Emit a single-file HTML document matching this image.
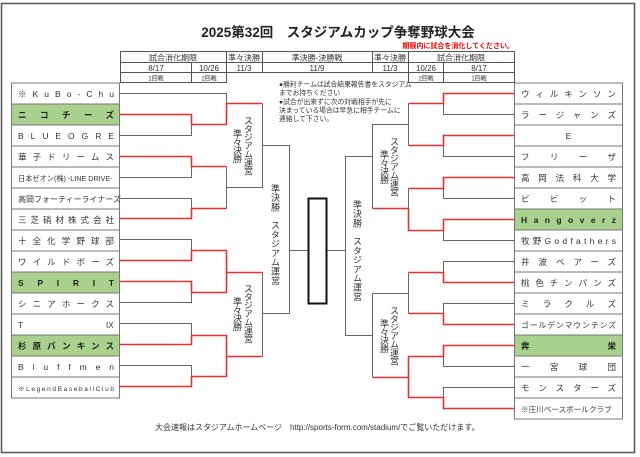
<!DOCTYPE html>
<html><head><meta charset="utf-8"><style>
html,body{margin:0;padding:0;background:#fff;}
body{width:640px;height:457px;position:relative;overflow:hidden;font-family:"Liberation Sans","Noto Sans CJK JP",sans-serif;}
.v{position:absolute;writing-mode:vertical-rl;font-size:9px;line-height:10px;color:#333;font-family:"Noto Sans CJK JP",sans-serif;letter-spacing:-0.6px;}
svg text{font-family:"Liberation Sans","Noto Sans CJK JP",sans-serif;}
</style></head><body>
<svg width="640" height="457" viewBox="0 0 640 457" style="position:absolute;left:0;top:0">
<rect x="1.5" y="3.5" width="633" height="449" fill="none" stroke="#555" stroke-width="1.5"/>
<text x="338" y="37" font-size="13.5" font-weight="bold" fill="#222" text-anchor="middle" font-family="Noto Sans CJK JP,sans-serif">2025第32回　スタジアムカップ争奪野球大会</text>
<text x="514" y="48" font-size="7" font-weight="bold" fill="#e00" text-anchor="end" font-family="Noto Sans CJK JP,sans-serif">期限内に試合を消化してください。</text>
<!-- header table -->
<g stroke="#555" stroke-width="1" fill="none">
<rect x="120.5" y="51.5" width="394" height="21"/>
<line x1="120.5" y1="62.5" x2="514.5" y2="62.5"/>
<line x1="226.5" y1="51.5" x2="226.5" y2="72.5"/>
<line x1="262.5" y1="51.5" x2="262.5" y2="72.5"/>
<line x1="372.5" y1="51.5" x2="372.5" y2="72.5"/>
<line x1="408.5" y1="51.5" x2="408.5" y2="72.5"/>
<line x1="191.5" y1="62.5" x2="191.5" y2="82.5"/>
<line x1="443.5" y1="62.5" x2="443.5" y2="82.5"/>
<rect x="120.5" y="72.5" width="106" height="10"/>
<rect x="408.5" y="72.5" width="106" height="10"/>
</g>
<g font-size="8" fill="#333" text-anchor="middle" font-family="Noto Sans CJK JP,sans-serif">
<text x="173" y="60.5">試合消化期限</text>
<text x="244" y="60.5">準々決勝</text>
<text x="317" y="60.5">準決勝-決勝戦</text>
<text x="390" y="60.5">準々決勝</text>
<text x="461" y="60.5">試合消化期限</text>
<text x="156" y="71">8/17</text><text x="209" y="71">10/26</text><text x="244" y="71">11/3</text>
<text x="317" y="71">11/9</text><text x="390" y="71">11/3</text><text x="426" y="71">10/26</text><text x="479" y="71">8/17</text>
<text x="156" y="80.5" font-size="6">1回戦</text><text x="209" y="80.5" font-size="6">2回戦</text>
<text x="426" y="80.5" font-size="6">2回戦</text><text x="479" y="80.5" font-size="6">1回戦</text>
</g>
<g font-size="6.8" fill="#333" font-family="Noto Sans CJK JP,sans-serif">
<text x="279" y="86.5">●勝利チームは試合結果報告書をスタジアム</text>
<text x="279" y="95">までお持ちください</text>
<text x="279" y="104">●試合が出来ずに次の対戦相手が先に</text>
<text x="279" y="112.5">決まっている場合は早急に相手チームに</text>
<text x="279" y="121">連絡して下さい。</text>
</g>
<!-- left boxes -->
<g stroke="#777" stroke-width="1">
<rect x="11.5" y="83" width="108" height="21" fill="#fff"/>
<rect x="11.5" y="104" width="108" height="21" fill="#a9d18e"/>
<rect x="11.5" y="125" width="108" height="21" fill="#fff"/>
<rect x="11.5" y="146" width="108" height="21" fill="#fff"/>
<rect x="11.5" y="167" width="108" height="21" fill="#fff"/>
<rect x="11.5" y="188" width="108" height="21" fill="#fff"/>
<rect x="11.5" y="209" width="108" height="21" fill="#fff"/>
<rect x="11.5" y="230" width="108" height="21" fill="#fff"/>
<rect x="11.5" y="251" width="108" height="21" fill="#fff"/>
<rect x="11.5" y="272" width="108" height="21" fill="#a9d18e"/>
<rect x="11.5" y="293" width="108" height="21" fill="#fff"/>
<rect x="11.5" y="314" width="108" height="21" fill="#fff"/>
<rect x="11.5" y="335" width="108" height="21" fill="#a9d18e"/>
<rect x="11.5" y="356" width="108" height="21" fill="#fff"/>
<rect x="11.5" y="377" width="108" height="21" fill="#fff"/>
</g>
<g font-size="8.5" fill="#333" font-family="Noto Sans CJK JP,sans-serif">
<text x="18" y="97" textLength="96" lengthAdjust="spacing">※KuBo-Chu</text>
<text x="18" y="118" textLength="96" lengthAdjust="spacing" font-weight="bold" fill="#222">ニコチーズ</text>
<text x="18" y="139" textLength="96" lengthAdjust="spacing">BLUEOGRE</text>
<text x="18" y="160" textLength="96" lengthAdjust="spacing">華子ドリームス</text>
<text x="18" y="181" font-size="7.2">日本ゼオン(株) -LINE DRIVE-</text>
<text x="18" y="202" font-size="8">高岡フォーティーライナーズ</text>
<text x="18" y="223" textLength="96" lengthAdjust="spacing">三芝硝材株式会社</text>
<text x="18" y="244" textLength="96" lengthAdjust="spacing">十全化学野球部</text>
<text x="18" y="265" textLength="96" lengthAdjust="spacing">ワイルドボーズ</text>
<text x="18" y="286" textLength="96" lengthAdjust="spacing" font-weight="bold" fill="#222">SPIRIT</text>
<text x="18" y="307" textLength="96" lengthAdjust="spacing">シニアホークス</text>
<text x="18" y="328">T</text><text x="106" y="328" font-size="8">IX</text>
<text x="18" y="349" textLength="96" lengthAdjust="spacing" font-weight="bold" fill="#222">杉原パンキンス</text>
<text x="18" y="370" textLength="96" lengthAdjust="spacing">Bluffmen</text>
<text x="18" y="391" textLength="96" lengthAdjust="spacing" font-size="6.5">※LegendBaseballClub</text>
</g>
<!-- right boxes -->
<g stroke="#777" stroke-width="1">
<rect x="514.5" y="83" width="108" height="21" fill="#fff"/>
<rect x="514.5" y="104" width="108" height="21" fill="#fff"/>
<rect x="514.5" y="125" width="108" height="21" fill="#fff"/>
<rect x="514.5" y="146" width="108" height="21" fill="#fff"/>
<rect x="514.5" y="167" width="108" height="21" fill="#fff"/>
<rect x="514.5" y="188" width="108" height="21" fill="#fff"/>
<rect x="514.5" y="209" width="108" height="21" fill="#a9d18e"/>
<rect x="514.5" y="230" width="108" height="21" fill="#fff"/>
<rect x="514.5" y="251" width="108" height="21" fill="#fff"/>
<rect x="514.5" y="272" width="108" height="21" fill="#fff"/>
<rect x="514.5" y="293" width="108" height="21" fill="#fff"/>
<rect x="514.5" y="314" width="108" height="21" fill="#fff"/>
<rect x="514.5" y="335" width="108" height="21" fill="#a9d18e"/>
<rect x="514.5" y="356" width="108" height="21" fill="#fff"/>
<rect x="514.5" y="377" width="108" height="21" fill="#fff"/>
<rect x="514.5" y="398" width="108" height="21" fill="#fff"/>
</g>
<g font-size="8.5" fill="#333" font-family="Noto Sans CJK JP,sans-serif">
<text x="521" y="97" textLength="95" lengthAdjust="spacing">ウィルキンソン</text>
<text x="521" y="118" textLength="95" lengthAdjust="spacing">ラージャンズ</text>
<text x="568.5" y="139" text-anchor="middle">E</text>
<text x="521" y="160" textLength="95" lengthAdjust="spacing">フリーザ</text>
<text x="521" y="181" textLength="95" lengthAdjust="spacing">高岡法科大学</text>
<text x="521" y="202" textLength="95" lengthAdjust="spacing">ビビット</text>
<text x="521" y="223" textLength="95" lengthAdjust="spacing" font-weight="bold" fill="#222">Hangoverz</text>
<text x="521" y="244" textLength="95" lengthAdjust="spacing">牧野Godfathers</text>
<text x="521" y="265" textLength="95" lengthAdjust="spacing">井波ベアーズ</text>
<text x="521" y="286" textLength="95" lengthAdjust="spacing">桃色チンパンズ</text>
<text x="521" y="307" textLength="95" lengthAdjust="spacing">ミラクルズ</text>
<text x="521" y="328" textLength="95" lengthAdjust="spacing" font-size="7.8">ゴールデンマウンテンズ</text>
<text x="521" y="349" textLength="95" lengthAdjust="spacing" font-weight="bold" fill="#222">奔栄</text>
<text x="521" y="370" textLength="95" lengthAdjust="spacing">一宮球団</text>
<text x="521" y="391" textLength="95" lengthAdjust="spacing">モンスターズ</text>
<text x="521" y="412" font-size="7.6">※庄川ベースボールクラブ</text>
</g>
<!-- gray bracket lines -->
<g stroke="#666" stroke-width="1" fill="none">
<path d="M119.5 93.5H226.5V124.5"/>
<path d="M119.5 135.5H191.5V114.5"/>
<path d="M119.5 177.5H191.5V156.5"/>
<path d="M119.5 198.5H191.5V218.5"/>
<path d="M226.5 166.5V208.5"/>
<path d="M226.5 187.5H262.5V103.5"/>
<path d="M262.5 145.5H289.5V313.5"/>
<path d="M119.5 239.5H191.5V250.5"/>
<path d="M119.5 302.5H191.5V281.5"/>
<path d="M119.5 323.5H191.5V344.5"/>
<path d="M119.5 365.5H191.5V386.5"/>
<path d="M262.5 272.5V356.5"/>
<path d="M262.5 313.5H289.5"/>
<path d="M289.5 250.5H308"/>
<path d="M514.5 114.5H443.5V93.5"/>
<path d="M514.5 156.5H443.5V135.5"/>
<path d="M514.5 198.5H443.5V177.5"/>
<path d="M514.5 240.5H443.5V219.5"/>
<path d="M408.5 103.5V145.5"/>
<path d="M408.5 124.5H372.5V208.5"/>
<path d="M408.5 188.5V230.5"/>
<path d="M372.5 156.5H345.5V335.5"/>
<path d="M514.5 261.5H443.5V282.5"/>
<path d="M514.5 303.5H443.5V324.5"/>
<path d="M514.5 366.5H443.5V345.5"/>
<path d="M514.5 387.5H443.5V408.5"/>
<path d="M408.5 272.5V313.5"/>
<path d="M408.5 293.5H372.5V377.5"/>
<path d="M408.5 356.5V397.5"/>
<path d="M372.5 335.5H345.5"/>
<path d="M345.5 250.5H327"/>
</g>
<!-- red winner lines -->
<g stroke="#e83030" stroke-width="1.6" fill="none">
<path d="M119.5 114.5H191.5V124.5H226.5V103.5H262.5"/>
<path d="M119.5 156.5H191.5V166.5H226.5"/>
<path d="M119.5 218.5H191.5V208.5H226.5"/>
<path d="M119.5 260.5H191.5V250.5H226.5V272.5H262.5"/>
<path d="M119.5 281.5H191.5V292.5H226.5V272.5"/>
<path d="M119.5 344.5H191.5V335.5H226.5V356.5H262.5"/>
<path d="M119.5 386.5H191.5V376.5H226.5V356.5"/>
<path d="M514.5 93.5H443.5V103.5H408.5"/>
<path d="M514.5 135.5H443.5V145.5H408.5"/>
<path d="M514.5 177.5H443.5V188.5H408.5"/>
<path d="M514.5 219.5H443.5V230.5H408.5V208.5H372.5"/>
<path d="M514.5 282.5H443.5V272.5H408.5"/>
<path d="M514.5 324.5H443.5V313.5H408.5"/>
<path d="M514.5 345.5H443.5V356.5H408.5V377.5H372.5"/>
<path d="M514.5 408.5H443.5V397.5H408.5V377.5"/>
</g>
<rect x="308.5" y="198.5" width="18" height="105" fill="#fff" stroke="#111" stroke-width="2"/>
<text x="155" y="430" font-size="8" fill="#333" font-family="Noto Sans CJK JP,sans-serif">大会速報はスタジアムホームページ　http://sports-form.com/stadium/でご覧いただけます。</text>
</svg>
<div class="v" style="left:243px;top:116px;">スタジアム運営</div>
<div class="v" style="left:232px;top:129px;">準々決勝</div>
<div class="v" style="left:243px;top:284px;">スタジアム運営</div>
<div class="v" style="left:232px;top:297px;">準々決勝</div>
<div class="v" style="left:389px;top:137px;">スタジアム運営</div>
<div class="v" style="left:379px;top:150px;">準々決勝</div>
<div class="v" style="left:389px;top:306px;">スタジアム運営</div>
<div class="v" style="left:379px;top:319px;">準々決勝</div>
<div class="v" style="left:270px;top:184px;letter-spacing:0.2px;">準決勝　スタジアム運営</div>
<div class="v" style="left:352px;top:200px;letter-spacing:0.2px;">準決勝　スタジアム運営</div>
</body></html>
